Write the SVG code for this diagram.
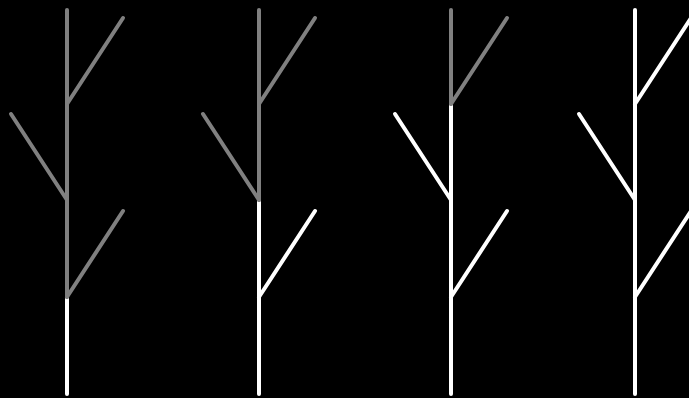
<svg xmlns="http://www.w3.org/2000/svg" width="689" height="398" viewBox="0 0 689 398">
<style>
line{stroke-width:4;stroke-linecap:round;fill:none}
.w{stroke:#ffffff}
.g{stroke:#808080}
</style>
<defs>
<line id="s0" x1="0" y1="394" x2="0" y2="297"/>
<line id="b0" x1="0" y1="297" x2="56" y2="211"/>
<line id="s1" x1="0" y1="297" x2="0" y2="200"/>
<line id="b1" x1="0" y1="200" x2="-56" y2="114"/>
<line id="s2" x1="0" y1="200" x2="0" y2="104"/>
<line id="b2" x1="0" y1="104" x2="56" y2="18"/>
<line id="s3" x1="0" y1="104" x2="0" y2="10"/>
</defs>
<rect width="689" height="398" fill="#000"/>
<g id="tree1" transform="translate(67,0)">
<use href="#s0" class="w"/>
<use href="#b0" class="g"/><use href="#s1" class="g"/><use href="#b1" class="g"/><use href="#s2" class="g"/><use href="#b2" class="g"/><use href="#s3" class="g"/>
</g>
<g id="tree2" transform="translate(259,0)">
<use href="#s0" class="w"/><use href="#b0" class="w"/><use href="#s1" class="w"/>
<use href="#b1" class="g"/><use href="#s2" class="g"/><use href="#b2" class="g"/><use href="#s3" class="g"/>
</g>
<g id="tree3" transform="translate(451,0)">
<use href="#s0" class="w"/><use href="#b0" class="w"/><use href="#s1" class="w"/><use href="#b1" class="w"/><use href="#s2" class="w"/>
<use href="#b2" class="g"/><use href="#s3" class="g"/>
</g>
<g id="tree4" transform="translate(635,0)">
<use href="#s0" class="w"/><use href="#b0" class="w"/><use href="#s1" class="w"/><use href="#b1" class="w"/><use href="#s2" class="w"/><use href="#b2" class="w"/><use href="#s3" class="w"/>
</g>
</svg>
